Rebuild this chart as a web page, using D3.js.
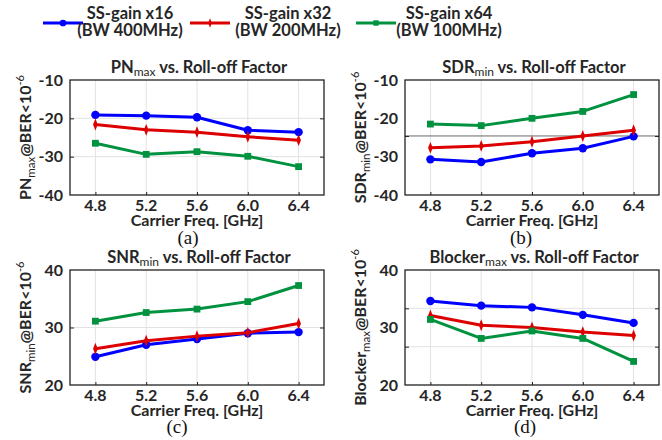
<!DOCTYPE html>
<html>
<head>
<meta charset="utf-8">
<script src="https://cdn.jsdelivr.net/npm/d3@7/dist/d3.min.js"></script>
<style>
  body { margin: 0; background: #fff; }
  text { font-family: Lato, "Open Sans", sans-serif; font-weight: bold; fill: #262626; }
  .cap { font-family: "Liberation Serif", "DejaVu Serif", serif; font-weight: normal; fill: #111; }
</style>
</head>
<body>
<svg id="chart" width="662" height="440"></svg>
<script>
// carrier frequencies (GHz)
const freqs = [4.8, 5.2, 5.6, 6.0, 6.4];
const xTicks = [4.8, 5.2, 5.6, 6.0, 6.4];

// series names for the legend
const seriesNames = ["SS-gain x16", "SS-gain x32", "SS-gain x64"];
const seriesBw = ["(BW 400MHz)", "(BW 200MHz)", "(BW 100MHz)"];

// (a) PN max
const pnX16 = [-19.1, -19.3, -19.7, -23.1, -23.6];
const pnX32 = [-21.6, -23.0, -23.6, -24.8, -25.7];
const pnX64 = [-26.5, -29.4, -28.7, -29.9, -32.6];
// (b) SDR min
const sdrX16 = [-30.7, -31.4, -29.1, -27.8, -24.7];
const sdrX32 = [-27.7, -27.2, -26.1, -24.6, -23.1];
const sdrX64 = [-21.5, -21.9, -20.0, -18.2, -13.8];
// (c) SNR min
const snrX16 = [24.9, 27.0, 28.0, 29.0, 29.2];
const snrX32 = [26.3, 27.7, 28.5, 29.1, 30.7];
const snrX64 = [31.1, 32.6, 33.2, 34.5, 37.3];
// (d) Blocker max
const blkX16 = [34.6, 33.8, 33.5, 32.2, 30.8];
const blkX32 = [32.1, 30.4, 30.0, 29.2, 28.6];
const blkX64 = [31.4, 28.1, 29.4, 28.1, 24.1];

// y tick labels and grid lines per panel
const negTicks = [-40, -30, -20, -10];
const posTicks = [20, 30, 40];
const pnGrid = [-30, -20];
const sdrGrid = [-24.6];
const snrGrid = [30];
const blkGrid = [26.67, 33.33];

const colors = ["#0000ff", "#dd0000", "#00923f"];

const svg = d3.select("#chart");

const panels = [
  { box: [70, 80, 254, 115], data: [pnX16, pnX32, pnX64], yDomain: [-40, -10], ticks: negTicks, grid: pnGrid,
    name: "PN", sub: "max", cap: "(a)", capX: 188, capY: 244 },
  { box: [405, 80, 254, 115], data: [sdrX16, sdrX32, sdrX64], yDomain: [-40, -10], ticks: negTicks, grid: sdrGrid,
    name: "SDR", sub: "min", cap: "(b)", capX: 521, capY: 244, darkGrid: true },
  { box: [70, 270, 254, 115], data: [snrX16, snrX32, snrX64], yDomain: [20, 40], ticks: posTicks, grid: snrGrid,
    name: "SNR", sub: "min", cap: "(c)", capX: 177, capY: 433 },
  { box: [405, 270, 254, 115], data: [blkX16, blkX32, blkX64], yDomain: [20, 40], ticks: posTicks, grid: blkGrid,
    name: "Blocker", sub: "max", cap: "(d)", capX: 525, capY: 433 }
];

function marker(g, i, x, y, s) {
  if (i === 0) {
    g.append("circle").attr("cx", x).attr("cy", y).attr("r", 4.2 * s).attr("fill", colors[0]);
  } else if (i === 1) {
    g.append("path")
      .attr("d", d3.symbol(d3.symbolDiamond, 26 * s * s)())
      .attr("transform", `translate(${x},${y}) scale(0.85,1.25)`)
      .attr("fill", colors[1]);
  } else {
    g.append("rect").attr("x", x - 3.4 * s).attr("y", y - 3.4 * s)
      .attr("width", 6.8 * s).attr("height", 6.8 * s).attr("fill", colors[2]);
  }
}

panels.forEach(p => {
  const [left, top, w, h] = p.box;
  const g = svg.append("g").attr("transform", `translate(${left},${top})`);
  const x = d3.scaleLinear().domain([4.6, 6.6]).range([0, w]);
  const y = d3.scaleLinear().domain(p.yDomain).range([h, 0]);

  // vertical grid
  g.append("g").selectAll("line").data(xTicks).join("line")
    .attr("x1", d => x(d)).attr("x2", d => x(d)).attr("y1", 0).attr("y2", h)
    .attr("stroke", "#e2e2e2").attr("stroke-width", 1);
  // horizontal grid
  g.append("g").selectAll("line").data(p.grid).join("line")
    .attr("x1", 0).attr("x2", w).attr("y1", d => y(d)).attr("y2", d => y(d))
    .attr("stroke", p.darkGrid ? "#444" : "#e2e2e2").attr("stroke-width", p.darkGrid ? 0.8 : 1);

  // inward ticks
  const yAxisL = d3.axisRight(y).tickValues(p.grid).tickSize(4).tickFormat("");
  const yAxisR = d3.axisLeft(y).tickValues(p.grid).tickSize(4).tickFormat("");
  const xAxisB = d3.axisTop(x).tickValues(xTicks).tickSize(3).tickFormat("");
  g.append("g").call(yAxisL);
  g.append("g").attr("transform", `translate(${w},0)`).call(yAxisR);
  g.append("g").attr("transform", `translate(0,${h})`).call(xAxisB);
  g.selectAll(".domain").remove();
  g.selectAll(".tick line").attr("stroke", "#222").attr("stroke-width", 1);

  // tick labels
  g.append("g").selectAll("text").data(p.ticks).join("text")
    .attr("x", -7).attr("y", d => y(d)).attr("dy", "0.36em")
    .attr("text-anchor", "end").style("font-size", "16px")
    .text(d => d);
  g.append("g").selectAll("text").data(xTicks).join("text")
    .attr("x", d => x(d)).attr("y", h + 16)
    .attr("text-anchor", "middle").style("font-size", "16px")
    .text(d => d3.format(".1f")(d));

  // series
  const line = d3.line().x((d, i) => x(freqs[i])).y(d => y(d));
  p.data.forEach((vals, si) => {
    g.append("path").datum(vals).attr("d", line)
      .attr("fill", "none").attr("stroke", colors[si]).attr("stroke-width", 3)
      .attr("stroke-linejoin", "round");
    vals.forEach((v, i) => marker(g, si, x(freqs[i]), y(v), 1));
  });

  // box
  g.append("rect").attr("width", w).attr("height", h)
    .attr("fill", "none").attr("stroke", "#222").attr("stroke-width", 1.3);

  // title
  const t = g.append("text").attr("x", w / 2 + 2).attr("y", -7)
    .attr("text-anchor", "middle").style("font-size", "16.5px");
  t.append("tspan").text(p.name);
  t.append("tspan").attr("dy", 3).style("font-size", "12px").style("font-weight", "normal").text(p.sub);
  t.append("tspan").attr("dy", -3).text(" vs. Roll-off Factor");

  // x label
  g.append("text").attr("x", w / 2).attr("y", h + 31)
    .attr("text-anchor", "middle").style("font-size", "16px")
    .text("Carrier Freq. [GHz]");

  // y label
  const yl = g.append("text")
    .attr("transform", `translate(-39,${h / 2}) rotate(-90)`)
    .attr("text-anchor", "middle").style("font-size", "16px");
  yl.append("tspan").text(p.name);
  yl.append("tspan").attr("dy", 4).style("font-size", "11.5px").style("font-weight", "normal").text(p.sub);
  yl.append("tspan").attr("dy", -4).text("@BER<10");
  yl.append("tspan").attr("dy", -7).style("font-size", "11px").style("font-weight", "normal").text("-6");

  // caption
  svg.append("text").attr("class", "cap").attr("x", p.capX).attr("y", p.capY)
    .attr("text-anchor", "middle").style("font-size", "19px").text(p.cap);
});

// legend
const legX = [43, 190, 356];
const legTextX = [130, 288, 449];
seriesNames.forEach((n, i) => {
  const lg = svg.append("g");
  lg.append("line").attr("x1", legX[i]).attr("x2", legX[i] + 40).attr("y1", 23).attr("y2", 23)
    .attr("stroke", colors[i]).attr("stroke-width", 3);
  marker(lg, i, legX[i] + 20, 23, 0.8);
  lg.append("text").attr("x", legTextX[i]).attr("y", 19).attr("text-anchor", "middle")
    .style("font-size", "16.5px").text(n);
  lg.append("text").attr("x", legTextX[i]).attr("y", 36).attr("text-anchor", "middle")
    .style("font-size", "16.5px").text(seriesBw[i]);
});
</script>
</body>
</html>
